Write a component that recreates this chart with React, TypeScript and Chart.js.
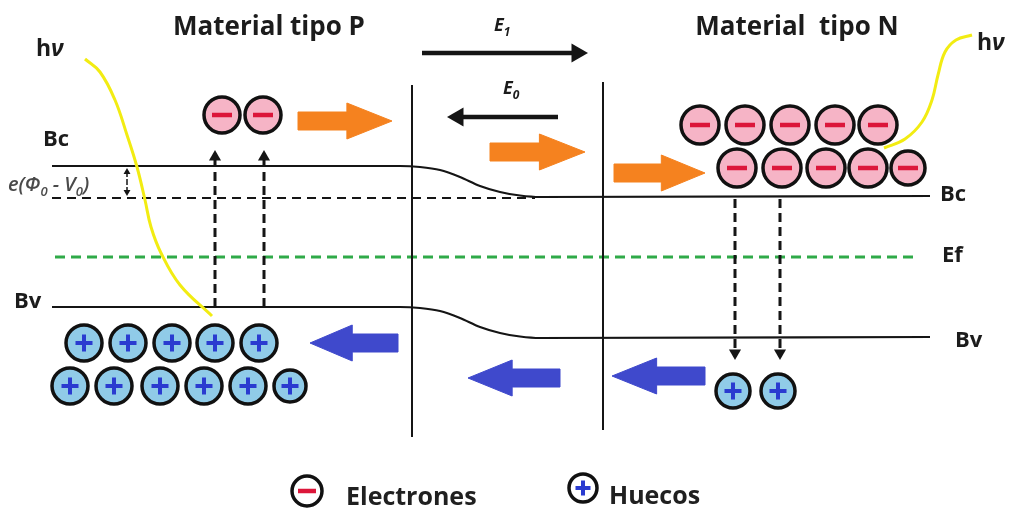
import React, { useEffect, useRef } from "react";
import { Chart, registerables } from "chart.js";

Chart.register(...registerables);

const WIDTH = 1015;
const HEIGHT = 512;

// ---- Diagram data (x: left→right, y: top→bottom, same units as the picture) ----
const bandX = [52, 400, 420, 440, 460, 480, 500, 520, 540, 930];
const conductionY = [166, 166, 167, 170, 177, 186, 192, 195.5, 197, 196];
const valenceY = [307, 307, 308, 311, 318, 327, 333, 336.5, 338, 337];

const refLineX = [52, 535];
const refLineY = [198, 198];
const fermiX = [55, 915];
const fermiY = [257, 257];

const junctionX = [412, 603];
const junctionTop = [85, 82];
const junctionBottom = [437, 430];

const gapArrowX = [127];
const gapArrowTop = [168];
const gapArrowBottom = [196];

const exciteX = [215, 264];
const exciteFrom = [307, 307];
const exciteTo = [150, 150];
const recombX = [735, 780];
const recombFrom = [199, 199];
const recombTo = [360, 360];

const fieldFrom = [422, 558];
const fieldTo = [588, 447];
const fieldY = [53, 117];

const electronFlowFrom = [298, 490, 614];
const electronFlowTo = [392, 585, 705];
const electronFlowY = [121, 152, 173];
const holeFlowFrom = [398, 560, 705];
const holeFlowTo = [310, 468, 612];
const holeFlowY = [343, 378, 376];

const electronX = [222, 263, 700, 745, 790, 835, 878, 737, 782, 826, 868, 908];
const electronY = [115, 115, 125, 125, 125, 125, 125, 168, 168, 168, 168, 168];
const electronSize = [18, 18, 19, 19, 19, 19, 19, 19, 19, 19, 19, 17];

const holeX = [84, 128, 172, 215, 259, 70, 114, 160, 204, 248, 290, 733, 778];
const holeY = [343, 343, 343, 343, 343, 386, 386, 386, 386, 386, 386, 391, 391];
const holeSize = [18, 18, 18, 18, 18, 18, 18, 18, 18, 18, 16, 17, 17];

const lightLeftX = [85, 100, 115, 127, 137, 145, 151, 161, 180, 212];
const lightLeftY = [59, 72, 100, 135, 167, 200, 227, 253, 285, 316];
const lightRightX = [884, 905, 922, 932, 938, 945, 956, 972];
const lightRightY = [148, 139, 122, 100, 75, 52, 40, 35];

const legendX = [307, 583];
const legendY = [491, 488];

type Part = { t: string; sub?: boolean };
const labelParts: Part[][] = [
  [{ t: "Material tipo P" }],
  [{ t: "Material  tipo N" }],
  [{ t: "h" }, { t: "ν" }],
  [{ t: "h" }, { t: "ν" }],
  [{ t: "Bc" }],
  [{ t: "Bc" }],
  [{ t: "Bv" }],
  [{ t: "Bv" }],
  [{ t: "Ef" }],
  [{ t: "E" }, { t: "1", sub: true }],
  [{ t: "E" }, { t: "0", sub: true }],
  [{ t: "e(Φ" }, { t: "0", sub: true }, { t: " - V" }, { t: "0", sub: true }, { t: ")" }],
  [{ t: "Electrones" }],
  [{ t: "Huecos" }],
];
const labelX = [269, 797, 36, 977, 43, 940, 14, 955, 942, 494, 503, 8, 346, 609];
const labelY = [35, 35, 56, 50, 146, 201, 308, 347, 262, 31, 94, 191, 505, 504];
const labelKind = ["title", "title", "hv", "hv", "band", "band", "band", "band", "band", "field", "field", "gap", "legend", "legend"];

// ---- styles ----
const FONT = "'Open Sans', Lato, sans-serif";
const kindStyle: Record<string, { size: number; weight: string; italic: boolean; color: string; align: "left" | "center" }> = {
  title: { size: 26, weight: "bold", italic: false, color: "#1c1c1c", align: "center" },
  hv: { size: 23, weight: "bold", italic: false, color: "#1c1c1c", align: "left" },
  band: { size: 22, weight: "bold", italic: false, color: "#1c1c1c", align: "left" },
  field: { size: 18, weight: "bold", italic: true, color: "#1c1c1c", align: "left" },
  gap: { size: 20, weight: "600", italic: true, color: "#4a4a4a", align: "left" },
  legend: { size: 25, weight: "bold", italic: false, color: "#202020", align: "left" },
};

const pts = (xs: number[], ys: number[]) => xs.map((x, i) => ({ x, y: ys[i] }));

function lineSet(data: { x: number; y: number }[], color: string, width: number, extra: any = {}) {
  return {
    data,
    showLine: true,
    borderColor: color,
    borderWidth: width,
    pointRadius: 0,
    fill: false,
    tension: 0,
    ...extra,
  };
}

function thinArrow(x0: number, y0: number, x1: number, y1: number, color: string, width: number, head: number, dash: number[] = []) {
  const len = Math.hypot(x1 - x0, y1 - y0);
  const ux = (x1 - x0) / len;
  const uy = (y1 - y0) / len;
  const cx = x1 - ux * head;
  const cy = y1 - uy * head;
  const rot = (Math.atan2(ux, -uy) * 180) / Math.PI;
  return lineSet(
    [
      { x: x0, y: y0 },
      { x: cx, y: cy },
    ],
    color,
    width,
    {
      borderDash: dash,
      pointRadius: [0, head],
      pointStyle: "triangle",
      pointRotation: [0, rot],
      pointBackgroundColor: color,
      pointBorderColor: color,
      pointBorderWidth: 0,
    }
  );
}

function blockArrow(tail: number, tip: number, y: number, color: string) {
  const dir = Math.sign(tip - tail);
  const hl = Math.abs(tip - tail) * 0.48;
  const sh = 9;
  const hh = 18;
  const b = tip - dir * hl;
  const poly = [
    { x: tail, y: y - sh },
    { x: b, y: y - sh },
    { x: b, y: y - hh },
    { x: tip, y },
    { x: b, y: y + hh },
    { x: b, y: y + sh },
    { x: tail, y: y + sh },
    { x: tail, y: y - sh },
  ];
  return lineSet(poly, color, 1, { fill: "shape", backgroundColor: color });
}

function particles(xs: number[], ys: number[], sizes: number[] | number, fill: string, sign: "minus" | "plus", signColor: string, signSize: number) {
  return [
    {
      data: pts(xs, ys),
      showLine: false,
      pointStyle: "circle",
      pointRadius: sizes,
      pointBackgroundColor: fill,
      pointBorderColor: "#111111",
      pointBorderWidth: 3.5,
    },
    {
      data: pts(xs, ys),
      showLine: false,
      pointStyle: sign === "minus" ? "line" : "cross",
      pointRadius: signSize,
      pointBackgroundColor: signColor,
      pointBorderColor: signColor,
      pointBorderWidth: sign === "minus" ? 4.5 : 4,
    },
  ];
}

const textPlugin = {
  id: "diagramText",
  afterDatasetsDraw(chart: any) {
    const ctx = chart.ctx as CanvasRenderingContext2D;
    const xs = chart.scales.x;
    const ys = chart.scales.y;
    ctx.save();
    ctx.textBaseline = "alphabetic";
    ctx.textAlign = "left";
    labelParts.forEach((parts, i) => {
      const st = kindStyle[labelKind[i]];
      const fontFor = (p: Part, idx: number) => {
        const italic = st.italic || (labelKind[i] === "hv" && idx === 1);
        const size = p.sub ? Math.round(st.size * 0.65) : st.size;
        return `${italic ? "italic " : ""}${st.weight} ${size}px ${FONT}`;
      };
      let total = 0;
      parts.forEach((p, idx) => {
        ctx.font = fontFor(p, idx);
        total += ctx.measureText(p.t).width;
      });
      let px = xs.getPixelForValue(labelX[i]);
      const py = ys.getPixelForValue(labelY[i]);
      if (st.align === "center") px -= total / 2;
      ctx.fillStyle = st.color;
      parts.forEach((p, idx) => {
        ctx.font = fontFor(p, idx);
        ctx.fillText(p.t, px, p.sub ? py + st.size * 0.25 : py);
        px += ctx.measureText(p.t).width;
      });
    });
    ctx.restore();
  },
};

export default function App() {
  const ref = useRef<HTMLCanvasElement | null>(null);

  useEffect(() => {
    if (!ref.current) return;
    const black = "#151515";
    const orange = "#f5821f";
    const blue = "#3f49cc";
    const yellow = "#f2ec12";
    const green = "#2faa48";
    const pink = "#f6b4c6";
    const lightBlue = "#90cbe8";

    const sets: any[] = [];
    sets.push(lineSet(pts(bandX, conductionY), black, 2.2, { cubicInterpolationMode: "monotone" }));
    sets.push(lineSet(pts(bandX, valenceY), black, 2.2, { cubicInterpolationMode: "monotone" }));
    sets.push(lineSet(pts(refLineX, refLineY), black, 2.2, { borderDash: [9, 6] }));
    sets.push(lineSet(pts(fermiX, fermiY), green, 3, { borderDash: [10, 6] }));
    junctionX.forEach((x, i) =>
      sets.push(lineSet([{ x, y: junctionTop[i] }, { x, y: junctionBottom[i] }], black, 2))
    );
    gapArrowX.forEach((x, i) => {
      const mid = (gapArrowTop[i] + gapArrowBottom[i]) / 2;
      sets.push(thinArrow(x, mid, x, gapArrowTop[i], black, 1.5, 4, [3, 2]));
      sets.push(thinArrow(x, mid, x, gapArrowBottom[i], black, 1.5, 4, [3, 2]));
    });
    sets.push(lineSet(pts(lightLeftX, lightLeftY), yellow, 3, { tension: 0.4 }));
    sets.push(lineSet(pts(lightRightX, lightRightY), yellow, 3, { tension: 0.4 }));
    exciteX.forEach((x, i) => sets.push(thinArrow(x, exciteFrom[i], x, exciteTo[i], black, 3, 7, [9, 5])));
    recombX.forEach((x, i) => sets.push(thinArrow(x, recombFrom[i], x, recombTo[i], black, 3, 7, [9, 5])));
    fieldFrom.forEach((x, i) => sets.push(thinArrow(x, fieldY[i], fieldTo[i], fieldY[i], black, 4.5, 11)));
    electronFlowFrom.forEach((x, i) => sets.push(blockArrow(x, electronFlowTo[i], electronFlowY[i], orange)));
    holeFlowFrom.forEach((x, i) => sets.push(blockArrow(x, holeFlowTo[i], holeFlowY[i], blue)));
    sets.push(...particles(electronX, electronY, electronSize, pink, "minus", "#dc163a", 10));
    sets.push(...particles(holeX, holeY, holeSize, lightBlue, "plus", "#2a3bd0", 8.5));
    sets.push(...particles([legendX[0]], [legendY[0]], 15, "#ffffff", "minus", "#dc163a", 9));
    sets.push(...particles([legendX[1]], [legendY[1]], 14, "#ffffff", "plus", "#2a3bd0", 7.5));

    const total = sets.length;
    const datasets = sets.map((d, i) => ({ ...d, order: total - i, clip: false }));

    const chart = new Chart(ref.current, {
      type: "line",
      data: { datasets },
      options: {
        animation: false,
        responsive: false,
        maintainAspectRatio: false,
        events: [],
        layout: { padding: 0, autoPadding: false },
        scales: {
          x: { type: "linear", min: 0, max: WIDTH, display: false },
          y: { type: "linear", min: 0, max: HEIGHT, reverse: true, display: false },
        },
        plugins: { legend: { display: false }, tooltip: { enabled: false } },
      },
      plugins: [textPlugin],
    } as any);
    return () => chart.destroy();
  }, []);

  return (
    <div style={{ position: "fixed", left: 0, top: 0, width: WIDTH, height: HEIGHT, background: "#ffffff" }}>
      <canvas ref={ref} width={WIDTH} height={HEIGHT} style={{ width: WIDTH, height: HEIGHT, display: "block" }} />
    </div>
  );
}
